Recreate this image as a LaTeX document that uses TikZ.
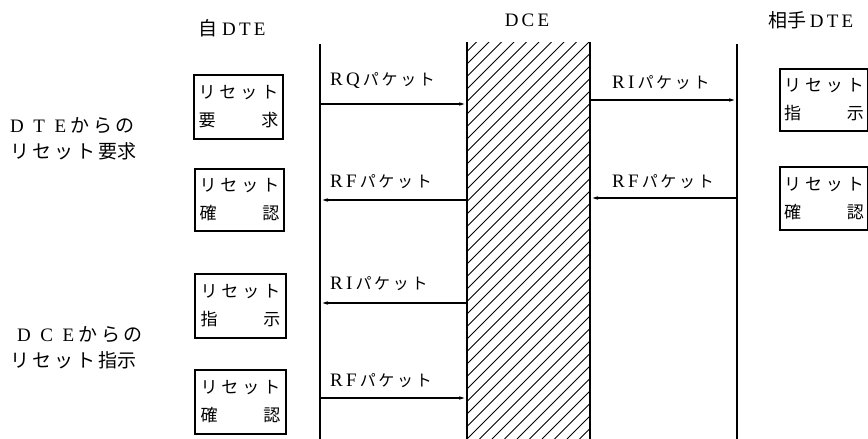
\documentclass[tikz,border=0pt]{standalone}
\usepackage{fontspec}
\setmainfont{Liberation Serif}
\newfontfamily\cjk{Noto Sans CJK JP}
\usetikzlibrary{arrows.meta}
\begin{document}
\begin{tikzpicture}[x=1pt,y=-1pt,
  txt/.style={inner sep=0pt,font=\fontsize{19}{21}\selectfont},
  btxt/.style={inner sep=0pt,font=\fontsize{17}{19}\selectfont},
  rbox/.style={draw,line width=2pt,inner sep=0pt,anchor=north west},
  life/.style={line width=2pt},
  msg/.style={line width=1.4pt,-{Latex[length=8pt,width=3.5pt]}}]
\useasboundingbox (0,0) rectangle (868,439);
% headers
\node[txt] (hA) at (232,28) {{\cjk 自}\ D\,T\,E};
\node[txt] (hB) at (527,20) {D\,C\,E};
\node[txt] (hC) at (811,20) {{\cjk 相手}\,D\,T\,E};
% side labels
\node[txt,anchor=west] (s1) at (10,126) {D\ \ T\ \ E\ {\cjk か\,ら\,の}};
\node[txt,anchor=west] (s2) at (10,151) {\cjk リ\,セ\,ッ\,ト\,要求};
\node[txt,anchor=west] (s3) at (17,335) {D\ \ C\ \ E\ {\cjk か\,ら\,の}};
\node[txt,anchor=west] (s4) at (10,360) {\cjk リ\,セ\,ッ\,ト\,指示};
% DCE hatched column
\begin{scope}
\clip (467,42) rectangle (590,439);
\foreach \i in {0,...,42}{
  \draw[line width=1pt] (467-400+\i*12.5,439) -- (467+\i*12.5,39);
}
\end{scope}
\draw[line width=1.5pt] (467,42) -- (467,439) (590,42) -- (590,439);
% lifelines
\coordinate (Ltop) at (320,44);
\coordinate (Lbot) at (320,439);
\coordinate (Rtop) at (737,44);
\coordinate (Rbot) at (737,439);
\draw[life] (Ltop) -- (Lbot);
\draw[life] (Rtop) -- (Rbot);
% message coordinates
\coordinate (a1) at (320,104); \coordinate (b1) at (467,104);
\coordinate (a2) at (590,100); \coordinate (b2) at (737,100);
\coordinate (a3) at (467,200); \coordinate (b3) at (320,200);
\coordinate (a4) at (737,198); \coordinate (b4) at (590,198);
\coordinate (a5) at (467,303); \coordinate (b5) at (320,303);
\coordinate (a6) at (320,398); \coordinate (b6) at (467,398);
\draw[msg] (a1) -- (b1);
\draw[msg] (a2) -- (b2);
\draw[msg] (a3) -- (b3);
\draw[msg] (a4) -- (b4);
\draw[msg] (a5) -- (b5);
\draw[msg] (a6) -- (b6);
% message labels
\newcommand\pkt{{\cjk\fontsize{16}{18}\selectfont パ\,ケ\,ッ\,ト}}
\node[txt,anchor=west] (m1) at (330,81) {R\,Q\,\pkt};
\node[txt,anchor=west] (m2) at (612,83) {R\,I\,\pkt};
\node[txt,anchor=west] (m3) at (330,182) {R\,F\,\pkt};
\node[txt,anchor=west] (m4) at (612,182) {R\,F\,\pkt};
\node[txt,anchor=west] (m5) at (330,284) {R\,I\,\pkt};
\node[txt,anchor=west] (m6) at (330,381) {R\,F\,\pkt};
% boxes
\newcommand\bx[2]{\vbox{\hsize=80pt\cjk
  \hbox to 80pt{リ\hfil セ\hfil ッ\hfil ト}\vskip 9pt
  \hbox to 80pt{#1\hfil #2}}}
\node[rbox,btxt,minimum width=89pt,minimum height=64pt] (k1) at (193,74) {\bx{要}{求}};
\node[rbox,btxt,minimum width=89pt,minimum height=62pt] (k2) at (194,168) {\bx{確}{認}};
\node[rbox,btxt,minimum width=91pt,minimum height=64pt] (k3) at (194,273) {\bx{指}{示}};
\node[rbox,btxt,minimum width=91pt,minimum height=64pt] (k4) at (194,369) {\bx{確}{認}};
\node[rbox,btxt,minimum width=88pt,minimum height=62pt] (k5) at (779,68) {\bx{指}{示}};
\node[rbox,btxt,minimum width=88pt,minimum height=63pt] (k6) at (779,166) {\bx{確}{認}};
\end{tikzpicture}
\end{document}
